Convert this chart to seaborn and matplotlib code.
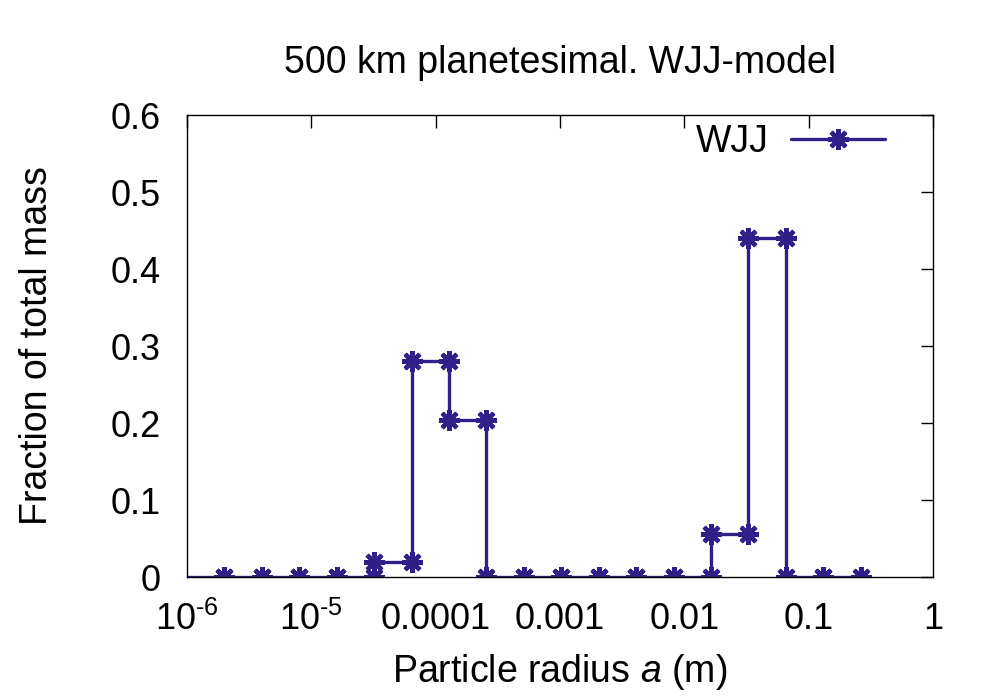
import numpy as np
import pandas as pd
import matplotlib
matplotlib.use('Agg')
import matplotlib.pyplot as plt
import matplotlib.ticker as mticker
import seaborn as sns

# bin edges in particle radius (m) and mass fraction in each bin
bin_edges = [1e-6, 2e-6, 4e-6, 8e-6, 1.6e-5, 3.2e-5, 6.4e-5, 1.28e-4, 2.56e-4,
             5.12e-4, 1.024e-3, 2.048e-3, 4.096e-3, 8.192e-3, 1.6384e-2,
             3.2768e-2, 6.5536e-2, 1.31072e-1, 2.62144e-1]
mass_fraction = [0, 0, 0, 0, 0, 0.02, 0.28, 0.204, 0, 0, 0, 0, 0, 0, 0.056, 0.44, 0, 0]

xtick_vals = [1e-6, 1e-5, 1e-4, 1e-3, 1e-2, 1e-1, 1]
xtick_labels = [r'$10^{\text{-}6}$', r'$10^{\text{-}5}$', '0.0001', '0.001', '0.01', '0.1', '1']
ytick_vals = [0, 0.1, 0.2, 0.3, 0.4, 0.5, 0.6]
ytick_labels = ['0', '0.1', '0.2', '0.3', '0.4', '0.5', '0.6']

# each bin -> two points (left edge, right edge) at the same height
xs, ys = [], []
for i, v in enumerate(mass_fraction):
    xs += [bin_edges[i], bin_edges[i + 1]]
    ys += [v, v]
df = pd.DataFrame({'a': xs, 'frac': ys})

sns.set_style("white")
plt.rcParams['font.family'] = ['Liberation Sans', 'DejaVu Sans']
plt.rcParams['mathtext.fontset'] = 'custom'
plt.rcParams['mathtext.rm'] = 'Liberation Sans'
plt.rcParams['mathtext.it'] = 'Liberation Sans:italic'
plt.rcParams['text.color'] = 'black'
plt.rcParams['axes.labelcolor'] = 'black'

fig = plt.figure(figsize=(10, 7), dpi=100)
ax = fig.add_axes([0.187, 0.1757, 0.746, 0.66])

col = '#2f1f88'
sns.lineplot(data=df, x='a', y='frac', estimator=None, sort=False, ax=ax,
             color=col, linewidth=2.4, marker=(8, 2, 0), markersize=15,
             markeredgewidth=3, markeredgecolor=col, markevery=list(range(1, len(xs))),
             label='WJJ')

ax.set_xscale('log')
ax.set_xlim(1e-6, 1)
ax.set_ylim(0, 0.6)
ax.xaxis.set_major_locator(mticker.FixedLocator(xtick_vals))
ax.xaxis.set_major_formatter(mticker.FixedFormatter(xtick_labels))
ax.xaxis.set_minor_locator(mticker.NullLocator())
ax.set_yticks(ytick_vals)
ax.set_yticklabels(ytick_labels)

ax.tick_params(direction='in', length=9, width=1, top=True, right=True,
               labelsize=26, colors='black')
ax.tick_params(axis='x', pad=18)
ax.tick_params(axis='y', pad=19)
for s in ax.spines.values():
    s.set_color('black')
    s.set_linewidth(1)

ax.set_xlabel('Particle radius $a$ (m)', fontsize=27, labelpad=10)
ax.set_ylabel('Fraction of total mass', fontsize=27, labelpad=40)
ax.set_title('500 km planetesimal. WJJ-model', fontsize=27, pad=30, color='black')

leg = ax.legend(loc='upper right', frameon=False, markerfirst=False, fontsize=27,
                handlelength=2.5, handletextpad=0.6, borderpad=0, borderaxespad=0,
                bbox_to_anchor=(0.9357, 0.98))
for t in leg.get_texts():
    t.set_color('black')

fig.savefig('out.png', dpi=100)
